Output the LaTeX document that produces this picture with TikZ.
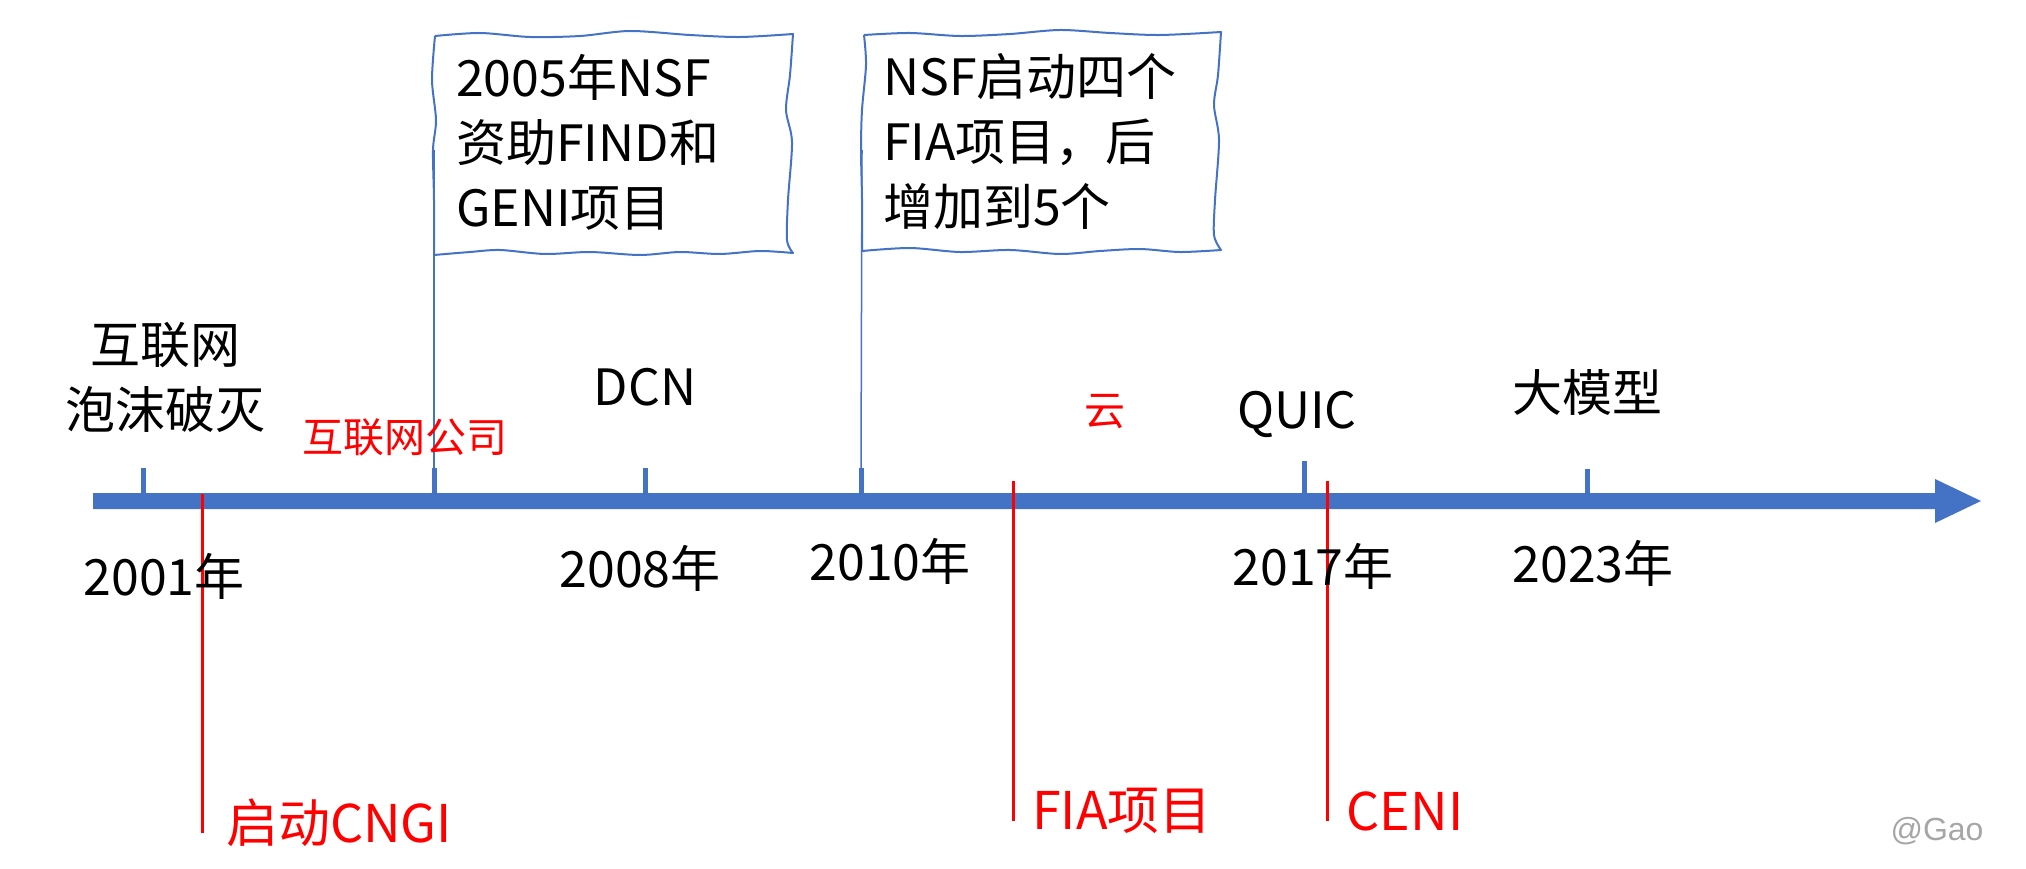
\documentclass[tikz,border=0pt]{standalone}
\usepackage{fontspec}
\setmainfont{Noto Sans CJK SC}
\newfontfamily\gaofont{Liberation Sans}
\definecolor{axisblue}{HTML}{4472C4}
\definecolor{redline}{HTML}{FF0000}
\definecolor{gaogray}{HTML}{A6A6A6}
\begin{document}
\begin{tikzpicture}[x=1pt,y=-1pt,
  blk/.style={inner sep=0pt, text=black, font=\fontsize{50}{65}\selectfont},
  redsm/.style={inner sep=0pt, text=redline, font=\fontsize{41}{50}\selectfont},
  redbig/.style={inner sep=0pt, text=redline, font=\fontsize{52}{62}\selectfont},
  tickmark/.style={line width=5pt, draw=axisblue},
  pinline/.style={line width=1.5pt, draw=axisblue},
  flagbox/.style={line width=2pt, draw=axisblue, line join=round},
  eventline/.style={line width=3pt, draw=redline},
]
\useasboundingbox (0,0) rectangle (2026,869);
\fill[white] (0,0) rectangle (2026,869);

% axis arrow
\fill[axisblue] (93,493) -- (1935,493) -- (1935,479) -- (1981,501) -- (1935,523) -- (1935,509) -- (93,509) -- cycle;

% ticks
\foreach \x/\t [count=\i] in {143/468,434/468,645/468,861/468,1304/461,1587/469} {
  \coordinate (tk\i) at (\x,495);
  \coordinate (tkt\i) at (\x,\t);
  \draw[tickmark] (tk\i) -- (tkt\i);
}

% pins from flag boxes to ticks
\coordinate (pin1) at (434,150);
\coordinate (pin2) at (862,150);
\draw[pinline] (pin1) -- (tkt2);
\draw[pinline] (pin2) -- (tkt4);

% flag box 1
\draw[flagbox]
  plot[smooth] coordinates {(435,36) (480,33) (530,37) (580,36) (630,31) (690,35) (740,37) (793,34)}
  -- plot[smooth] coordinates {(793,34) (790,75) (786,110) (792,142) (788,200) (787,240) (793,253)}
  -- plot[smooth] coordinates {(793,253) (760,251) (720,254) (680,252) (640,255) (590,252) (545,254) (500,250) (470,252) (434,255)}
  -- plot[smooth] coordinates {(434,255) (434,200) (433,150) (436,120) (432,80) (435,36)};

% flag box 2
\draw[flagbox]
  plot[smooth] coordinates {(864,35) (910,33) (960,36) (1010,34) (1060,30) (1110,33) (1160,35) (1221,32)}
  -- plot[smooth] coordinates {(1221,32) (1218,75) (1214,105) (1219,140) (1215,200) (1214,235) (1221,250)}
  -- plot[smooth] coordinates {(1221,250) (1180,252) (1140,249) (1100,251) (1060,254) (1010,250) (960,252) (910,248) (862,251)}
  -- plot[smooth] coordinates {(862,251) (862,200) (861,150) (862,110) (866,65) (864,35)};

% red event lines
\coordinate (e1a) at (202,494); \coordinate (e1b) at (202,833);
\coordinate (e2a) at (1013,481); \coordinate (e2b) at (1013,821);
\coordinate (e3a) at (1327,481); \coordinate (e3b) at (1327,821);
\draw[eventline] (e1a) -- (e1b);
\draw[eventline] (e2a) -- (e2b);
\draw[eventline] (e3a) -- (e3b);

% box texts
\node[blk, anchor=north west, align=left] (nsf1) at (456,54) {2005年NSF\\资助FIND和\\GENI项目};
\node[blk, anchor=north west, align=left] (nsf2) at (883,53) {NSF启动四个\\FIA项目，后\\增加到5个};

% labels above axis
\node[blk, anchor=north, align=center] (bubble) at (165,322) {互联网\\泡沫破灭};
\node[redsm] (netco) at (405,437) {互联网公司};
\node[blk, anchor=base] (dcn) at (645,405) {DCN};
\node[redsm] (cloud) at (1105,412) {云};
\node[blk, anchor=base] (quic) at (1297,428) {QUIC};
\node[blk] (llm) at (1587,392) {大模型};

% years
\node[blk, anchor=base] (y2001) at (164,595) {2001年};
\node[blk, anchor=base] (y2008) at (640,587) {2008年};
\node[blk, anchor=base] (y2010) at (890,580) {2010年};
\node[blk, anchor=base] (y2017) at (1313,585) {2017年};
\node[blk, anchor=base] (y2023) at (1593,582) {2023年};

% red labels below
\node[redbig, anchor=base] (cngi) at (339,842) {启动CNGI};
\node[redbig, anchor=base] (fia) at (1122,829) {FIA项目};
\node[redbig, anchor=base] (ceni) at (1405,830) {CENI};

% watermark
\node[inner sep=0pt, text=gaogray, font=\gaofont\fontsize{32}{38}\selectfont] (gao) at (1937,831) {@Gao};
\end{tikzpicture}
\end{document}
